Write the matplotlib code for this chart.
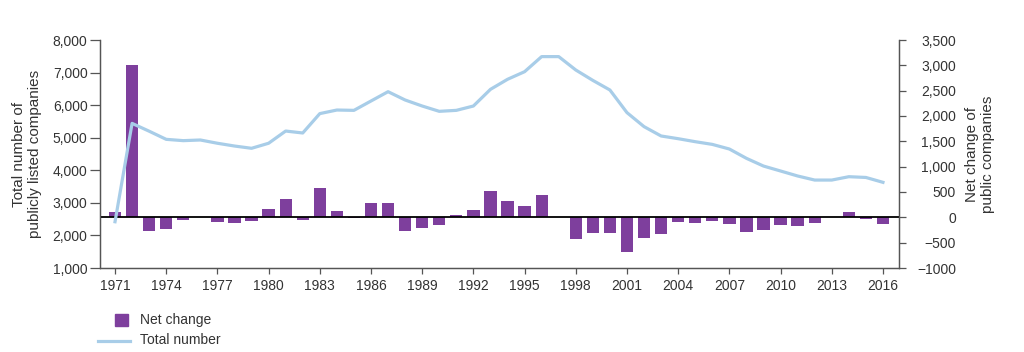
import matplotlib.pyplot as plt
from matplotlib.patches import Rectangle
from matplotlib.lines import Line2D

plt.rcParams['font.family'] = ['Liberation Sans', 'DejaVu Sans']

years = list(range(1971, 2017))

# total number of publicly listed companies (left axis)
total_number = [2420, 5440, 5200, 4950, 4910, 4930, 4830, 4745, 4675, 4830,
                5205, 5145, 5740, 5850, 5840, 6127, 6413, 6158, 5973, 5810,
                5840, 5973, 6485, 6793, 7027, 7490, 7490, 7079, 6760, 6465,
                5770, 5340, 5053, 4970, 4878, 4795, 4653, 4367, 4130, 3978,
                3825, 3700, 3700, 3803, 3780, 3630]

# net change of public companies (right axis)
net_change = [110, 3000, -265, -232, -54, 0, -93, -106, -80, 158,
              370, -54, 582, 132, -22, 290, 290, -278, -212, -159,
              40, 145, 528, 317, 224, 449, 0, -424, -305, -318,
              -688, -410, -331, -93, -106, -80, -133, -291, -252, -159,
              -172, -119, 0, 99, -40, -139]

left_ticks = [1000, 2000, 3000, 4000, 5000, 6000, 7000, 8000]
left_labels = ["1,000", "2,000", "3,000", "4,000", "5,000", "6,000", "7,000", "8,000"]
right_ticks = [-1000, -500, 0, 500, 1000, 1500, 2000, 2500, 3000, 3500]
right_labels = ["\u22121000", "\u2212500", "0", "500", "1,000", "1,500", "2,000",
                "2,500", "3,000", "3,500"]
x_ticks = list(range(1971, 2017, 3))

purple = "#7E3F9D"
light_blue = "#A8CDE8"
spine_col = "#555555"
text_col = "#333333"

fig = plt.figure(figsize=(10.24, 3.52), dpi=100)
ax = fig.add_axes([100 / 1024, 1 - 268 / 352, 799 / 1024, 228 / 352])
ax2 = ax.twinx()

# bars on right axis, line on left axis drawn above
ax2.bar(years, net_change, width=0.72, color=purple, zorder=2)
ax2.axhline(0, color="black", lw=1.3, zorder=3)
ax.plot(years, total_number, color=light_blue, lw=2.3, zorder=4)
ax.set_zorder(ax2.get_zorder() + 1)
ax.patch.set_visible(False)

ax.set_xlim(1970.12, 2016.94)
ax.set_ylim(1000, 8000)
ax2.set_ylim(-1000, 3500)

for a in (ax, ax2):
    a.spines["top"].set_visible(False)
    for s in ("left", "right", "bottom"):
        a.spines[s].set_color(spine_col)
        a.spines[s].set_linewidth(0.9)

ax.set_yticks(left_ticks, left_labels)
ax.tick_params(axis="y", direction="out", length=7, width=0.9, pad=2,
               colors=spine_col, labelcolor=text_col, labelsize=10)
ax.set_xticks(x_ticks, [str(y) for y in x_ticks])
ax.tick_params(axis="x", direction="out", length=4, width=0.9, pad=4,
               colors=spine_col, labelcolor=text_col, labelsize=10)

ax2.set_yticks(right_ticks, right_labels, ha="right")
ax2.tick_params(axis="y", direction="out", length=5, width=0.9, pad=36,
                colors=spine_col, labelcolor=text_col, labelsize=10)

ax.set_ylabel("Total number of\npublicly listed companies", fontsize=11,
              color=text_col)
ax.yaxis.set_label_coords(-0.0726, 0.5)
ax2.set_ylabel("Net change of\npublic companies", fontsize=11,
               color=text_col)
ax2.yaxis.set_label_coords(1.0826, 0.5)

# legend below the chart
W, H = 1024, 352
fig.add_artist(Rectangle((115 / W, 1 - 326 / H), 13 / W, 12 / H,
                         transform=fig.transFigure, color=purple))
fig.add_artist(Line2D([98 / W, 130 / W], [1 - 340.5 / H, 1 - 340.5 / H],
                      transform=fig.transFigure, color=light_blue, lw=2.3))
fig.text(140 / W, 1 - 320 / H, "Net change", fontsize=10, color=text_col, va="center")
fig.text(140 / W, 1 - 340.5 / H, "Total number", fontsize=10, color=text_col, va="center")

fig.savefig("out.png", dpi=100)
